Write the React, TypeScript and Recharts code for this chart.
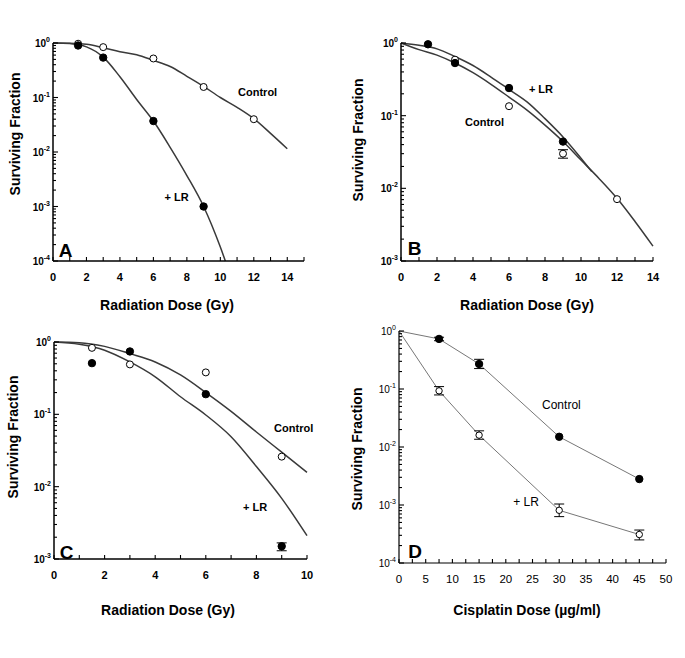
import React from 'react';
import { ComposedChart, Line, Scatter, XAxis, YAxis, ErrorBar, ReferenceDot } from 'recharts';

const FONT = '"Liberation Sans", Arial, sans-serif';

// ---- Panel A: radiation dose, 10^-4 .. 10^0
const aDoseTicks = [0, 1, 2, 3, 4, 5, 6, 7, 8, 9, 10, 11, 12, 13, 14, 15];
const aDoseLabels = [0, 2, 4, 6, 8, 10, 12, 14];
const aControlFit = [
  { dose: 0, sf: 1 }, { dose: 1, sf: 0.99 }, { dose: 2, sf: 0.95 }, { dose: 3, sf: 0.82 },
  { dose: 4, sf: 0.69 }, { dose: 5, sf: 0.61 }, { dose: 6, sf: 0.48 }, { dose: 7, sf: 0.37 },
  { dose: 8, sf: 0.245 }, { dose: 9, sf: 0.16 }, { dose: 10, sf: 0.1 }, { dose: 11, sf: 0.066 },
  { dose: 12, sf: 0.041 }, { dose: 13, sf: 0.022 }, { dose: 14, sf: 0.0115 },
];
const aControlPts = [
  { dose: 1.5, sf: 0.97 }, { dose: 3, sf: 0.84 }, { dose: 6, sf: 0.52 }, { dose: 9, sf: 0.156 }, { dose: 12, sf: 0.04 },
];
const aLrFit = [
  { dose: 0, sf: 1 }, { dose: 1, sf: 0.98 }, { dose: 1.5, sf: 0.93 }, { dose: 2, sf: 0.85 },
  { dose: 3, sf: 0.55 }, { dose: 4, sf: 0.24 }, { dose: 5, sf: 0.092 }, { dose: 6, sf: 0.037 },
  { dose: 7, sf: 0.0122 }, { dose: 8, sf: 0.0037 }, { dose: 9, sf: 0.001 }, { dose: 10, sf: 0.00018 },
  { dose: 10.3, sf: 0.0001 },
];
const aLrPts = [
  { dose: 1.5, sf: 0.9 }, { dose: 3, sf: 0.54 }, { dose: 6, sf: 0.037 }, { dose: 9, sf: 0.001 },
];

// ---- Panel B: radiation dose, 10^-3 .. 10^0
const bDoseTicks = [0, 1, 2, 3, 4, 5, 6, 7, 8, 9, 10, 11, 12, 13, 14];
const bDoseLabels = [0, 2, 4, 6, 8, 10, 12, 14];
const bControlFit = [
  { dose: 0, sf: 1 }, { dose: 1, sf: 0.81 }, { dose: 2, sf: 0.68 }, { dose: 3, sf: 0.53 },
  { dose: 4, sf: 0.39 }, { dose: 5, sf: 0.27 }, { dose: 6, sf: 0.18 }, { dose: 7, sf: 0.119 },
  { dose: 8, sf: 0.074 }, { dose: 9, sf: 0.044 }, { dose: 10, sf: 0.0245 }, { dose: 11, sf: 0.0137 },
  { dose: 12, sf: 0.0073 }, { dose: 13, sf: 0.0035 }, { dose: 14, sf: 0.0016 },
];
const bControlPts = [
  { dose: 3, sf: 0.59 }, { dose: 6, sf: 0.135 }, { dose: 9, sf: 0.03, err: [0.004, 0.004] }, { dose: 12, sf: 0.0071 },
];
const bLrFit = [
  { dose: 0, sf: 1 }, { dose: 1, sf: 0.93 }, { dose: 2, sf: 0.83 }, { dose: 3, sf: 0.65 },
  { dose: 4, sf: 0.49 }, { dose: 5, sf: 0.34 }, { dose: 6, sf: 0.23 }, { dose: 7, sf: 0.155 },
  { dose: 8, sf: 0.091 }, { dose: 9, sf: 0.051 }, { dose: 10, sf: 0.026 }, { dose: 10.6, sf: 0.017 },
];
const bLrPts = [
  { dose: 1.5, sf: 0.96 }, { dose: 3, sf: 0.53 }, { dose: 6, sf: 0.24 }, { dose: 9, sf: 0.044 },
];

// ---- Panel C: radiation dose, 10^-3 .. 10^0
const cDoseTicks = [0, 1, 2, 3, 4, 5, 6, 7, 8, 9, 10];
const cDoseLabels = [0, 2, 4, 6, 8, 10];
const cControlFit = [
  { dose: 0, sf: 1 }, { dose: 1, sf: 0.98 }, { dose: 2, sf: 0.87 }, { dose: 3, sf: 0.69 },
  { dose: 4, sf: 0.53 }, { dose: 5, sf: 0.35 }, { dose: 6, sf: 0.2 }, { dose: 7, sf: 0.11 },
  { dose: 8, sf: 0.057 }, { dose: 9, sf: 0.03 }, { dose: 10, sf: 0.0158 },
];
const cControlPts = [
  { dose: 1.5, sf: 0.83 }, { dose: 3, sf: 0.49 }, { dose: 6, sf: 0.38 }, { dose: 9, sf: 0.026 },
];
const cLrFit = [
  { dose: 0, sf: 1 }, { dose: 1, sf: 0.93 }, { dose: 2, sf: 0.77 }, { dose: 3, sf: 0.53 },
  { dose: 4, sf: 0.33 }, { dose: 5, sf: 0.175 }, { dose: 6, sf: 0.098 }, { dose: 7, sf: 0.049 },
  { dose: 8, sf: 0.019 }, { dose: 9, sf: 0.0069 }, { dose: 10, sf: 0.0021 },
];
const cLrPts = [
  { dose: 1.5, sf: 0.51 }, { dose: 3, sf: 0.74 }, { dose: 6, sf: 0.19 }, { dose: 9, sf: 0.0015, err: [0.0002, 0.00017] },
];

// ---- Panel D: cisplatin dose, 10^-4 .. 10^0
const dDoseTicks = [0, 2.5, 5, 7.5, 10, 12.5, 15, 17.5, 20, 22.5, 25, 27.5, 30, 32.5, 35, 37.5, 40, 42.5, 45, 47.5, 50];
const dDoseLabels = [0, 5, 10, 15, 20, 25, 30, 35, 40, 45, 50];
const dControl = [
  { dose: 0, sf: 1 }, { dose: 7.5, sf: 0.73, err: [0.05, 0.05] }, { dose: 15, sf: 0.27, err: [0.045, 0.055] },
  { dose: 30, sf: 0.015 }, { dose: 45, sf: 0.0028 },
];
const dLr = [
  { dose: 0, sf: 1 }, { dose: 7.5, sf: 0.093, err: [0.014, 0.017] }, { dose: 15, sf: 0.016, err: [0.0024, 0.003] },
  { dose: 30, sf: 0.00081, err: [0.00018, 0.00023] }, { dose: 45, sf: 0.00031, err: [0.00006, 0.00006] },
];

const logTicks = (lo: number, hi: number) => {
  const t: number[] = [];
  for (let e = lo; e < hi; e++) for (let m = 1; m < 10; m++) t.push(m * Math.pow(10, e));
  t.push(Math.pow(10, hi));
  return t;
};

const YTick = (props: any) => {
  const { x, y, payload, bold } = props;
  const lg = Math.log10(payload.value);
  const e = Math.round(lg);
  const major = Math.abs(lg - e) < 1e-6;
  return (
    <g>
      <line x1={x} y1={y} x2={x + (major ? 5 : 3)} y2={y} stroke="#000" strokeWidth={1.1} />
      {major && (
        <text x={x - 3} y={y + 4} textAnchor="end" fontSize={10} fontWeight={bold ? 'bold' : 'normal'} fontFamily={FONT} fill="#000">
          10<tspan dy={-5} fontSize={7}>{String(e)}</tspan>
        </text>
      )}
    </g>
  );
};

const XTick = (props: any) => {
  const { x, y, payload, labels, bold } = props;
  return (
    <g>
      <line x1={x} y1={y} x2={x} y2={y - 4} stroke="#000" strokeWidth={1.1} />
      {labels.includes(payload.value) && (
        <text x={x} y={y + 20} textAnchor="middle" fontSize={bold ? 11 : 11.5} fontWeight={bold ? 'bold' : 'normal'} fontFamily={FONT} fill="#000">
          {payload.value}
        </text>
      )}
    </g>
  );
};

const dotShape = (r: number, filled: boolean) => (p: any) => (
  <circle cx={p.cx} cy={p.cy} r={r} fill={filled ? '#000' : '#fff'} stroke="#000" strokeWidth={1} />
);

type PanelProps = {
  left: number; top: number; width: number; height: number;
  margin: { top: number; right: number; left: number; bottom: number };
  yWidth: number; xHeight: number;
  xDomain: [number, number]; xTicks: number[]; xLabels: number[];
  decades: [number, number];
  fits: { data: any[]; type: 'monotone' | 'linear'; stroke: string; width: number }[];
  points: { data: any[]; filled: boolean; r: number }[];
  notes: { x: number; y: number; text: string; size: number; bold: boolean; pos: 'right' | 'center' }[];
  xTitle: string; xTitlePos: [number, number];
  yTitlePos: [number, number];
  bold: boolean; axisWidth: number;
};

const Panel = (p: PanelProps) => (
  <div style={{ position: 'absolute', left: p.left, top: p.top, width: p.width, height: p.height }}>
    <ComposedChart width={p.width} height={p.height} margin={p.margin}>
      <XAxis
        dataKey="dose" type="number" domain={p.xDomain} ticks={p.xTicks} interval={0}
        height={p.xHeight} tickSize={0} tickMargin={0} tickLine={false}
        axisLine={{ stroke: '#000', strokeWidth: p.axisWidth }}
        tick={(t: any) => <XTick {...t} labels={p.xLabels} bold={p.bold} />}
        label={{
          content: () => (
            <text x={p.xTitlePos[0]} y={p.xTitlePos[1]} textAnchor="middle" fontSize={14} fontWeight="bold" fontFamily={FONT} fill="#000">
              {p.xTitle}
            </text>
          ),
        }}
      />
      <YAxis
        dataKey="sf" type="number" scale="log" domain={[Math.pow(10, p.decades[0]), Math.pow(10, p.decades[1])]}
        ticks={logTicks(p.decades[0], p.decades[1])} interval={0}
        width={p.yWidth} tickSize={0} tickMargin={0} tickLine={false}
        axisLine={{ stroke: '#000', strokeWidth: p.axisWidth }}
        tick={(t: any) => <YTick {...t} bold={p.bold} />}
        label={{
          content: () => (
            <text
              x={p.yTitlePos[0]} y={p.yTitlePos[1]} textAnchor="middle" dominantBaseline="central"
              transform={`rotate(-90 ${p.yTitlePos[0]} ${p.yTitlePos[1]})`}
              fontSize={14} fontWeight="bold" fontFamily={FONT} fill="#000"
            >
              Surviving Fraction
            </text>
          ),
        }}
      />
      {p.fits.map((f, i) => (
        <Line key={'f' + i} data={f.data} dataKey="sf" type={f.type} dot={false} stroke={f.stroke} strokeWidth={f.width} isAnimationActive={false} />
      ))}
      {p.points.map((s, i) => (
        <Scatter key={'s' + i} data={s.data} dataKey="sf" shape={dotShape(s.r, s.filled)} isAnimationActive={false}>
          <ErrorBar dataKey="err" direction="y" width={5} stroke="#000" strokeWidth={1} />
        </Scatter>
      ))}
      {p.notes.map((n, i) => (
        <ReferenceDot
          key={'n' + i} x={n.x} y={n.y} r={1} fill="none" stroke="none"
          label={{ value: n.text, position: n.pos, offset: 0, fontSize: n.size, fontWeight: n.bold ? 'bold' : 'normal', fill: '#000', fontFamily: FONT }}
        />
      ))}
    </ComposedChart>
  </div>
);

const fitStroke = '#3a3a3a';

export default function App() {
  return (
    <div style={{ position: 'absolute', left: 0, top: 0, width: 685, height: 658, background: '#fff', fontFamily: FONT }}>
      <Panel
        left={0} top={0} width={340} height={320}
        margin={{ top: 43, right: 36, left: 0, bottom: 0 }} yWidth={53} xHeight={59}
        xDomain={[0, 15]} xTicks={aDoseTicks} xLabels={aDoseLabels} decades={[-4, 0]}
        fits={[
          { data: aControlFit, type: 'monotone', stroke: fitStroke, width: 1.5 },
          { data: aLrFit, type: 'monotone', stroke: fitStroke, width: 1.5 },
        ]}
        points={[
          { data: aControlPts, filled: false, r: 3.5 },
          { data: aLrPts, filled: true, r: 3.7 },
        ]}
        notes={[
          { x: 11, y: 0.125, text: 'Control', size: 11, bold: true, pos: 'right' },
          { x: 6.6, y: 0.0015, text: '+ LR', size: 11, bold: true, pos: 'right' },
          { x: 0.75, y: 0.00016, text: 'A', size: 19, bold: true, pos: 'center' },
        ]}
        xTitle="Radiation Dose (Gy)" xTitlePos={[167, 310]} yTitlePos={[15, 134]}
        bold axisWidth={1.5}
      />
      <Panel
        left={340} top={0} width={345} height={320}
        margin={{ top: 43, right: 32, left: 0, bottom: 0 }} yWidth={61} xHeight={59}
        xDomain={[0, 14]} xTicks={bDoseTicks} xLabels={bDoseLabels} decades={[-3, 0]}
        fits={[
          { data: bControlFit, type: 'monotone', stroke: fitStroke, width: 1.5 },
          { data: bLrFit, type: 'monotone', stroke: fitStroke, width: 1.5 },
        ]}
        points={[
          { data: bControlPts, filled: false, r: 3.5 },
          { data: bLrPts, filled: true, r: 3.7 },
        ]}
        notes={[
          { x: 7.05, y: 0.234, text: '+ LR', size: 11, bold: true, pos: 'right' },
          { x: 3.5, y: 0.082, text: 'Control', size: 11, bold: true, pos: 'right' },
          { x: 0.75, y: 0.0015, text: 'B', size: 19, bold: true, pos: 'center' },
        ]}
        xTitle="Radiation Dose (Gy)" xTitlePos={[187, 310]} yTitlePos={[18, 140]}
        bold axisWidth={1.5}
      />
      <Panel
        left={0} top={320} width={340} height={338}
        margin={{ top: 22, right: 33, left: 0, bottom: 0 }} yWidth={54} xHeight={99}
        xDomain={[0, 10]} xTicks={cDoseTicks} xLabels={cDoseLabels} decades={[-3, 0]}
        fits={[
          { data: cControlFit, type: 'monotone', stroke: fitStroke, width: 1.5 },
          { data: cLrFit, type: 'monotone', stroke: fitStroke, width: 1.5 },
        ]}
        points={[
          { data: cControlPts, filled: false, r: 3.5 },
          { data: cLrPts, filled: true, r: 3.7 },
        ]}
        notes={[
          { x: 8.66, y: 0.065, text: 'Control', size: 11, bold: true, pos: 'right' },
          { x: 7.43, y: 0.0052, text: '+ LR', size: 11, bold: true, pos: 'right' },
          { x: 0.5, y: 0.00125, text: 'C', size: 19, bold: true, pos: 'center' },
        ]}
        xTitle="Radiation Dose (Gy)" xTitlePos={[168, 295]} yTitlePos={[13, 117]}
        bold axisWidth={1.5}
      />
      <Panel
        left={340} top={320} width={345} height={338}
        margin={{ top: 11, right: 19, left: 0, bottom: 0 }} yWidth={59} xHeight={95}
        xDomain={[0, 50]} xTicks={dDoseTicks} xLabels={dDoseLabels} decades={[-4, 0]}
        fits={[
          { data: dControl, type: 'linear', stroke: '#777', width: 1 },
          { data: dLr, type: 'linear', stroke: '#777', width: 1 },
        ]}
        points={[
          { data: dControl.filter((d) => d.dose > 0), filled: true, r: 3.7 },
          { data: dLr.filter((d) => d.dose > 0), filled: false, r: 3.2 },
        ]}
        notes={[
          { x: 26.6, y: 0.053, text: 'Control', size: 12, bold: false, pos: 'right' },
          { x: 21.2, y: 0.00112, text: '+ LR', size: 12, bold: false, pos: 'right' },
          { x: 3, y: 0.00016, text: 'D', size: 19, bold: true, pos: 'center' },
        ]}
        xTitle="Cisplatin Dose (µg/ml)" xTitlePos={[187, 295]} yTitlePos={[17, 129]}
        bold={false} axisWidth={1.2}
      />
    </div>
  );
}
